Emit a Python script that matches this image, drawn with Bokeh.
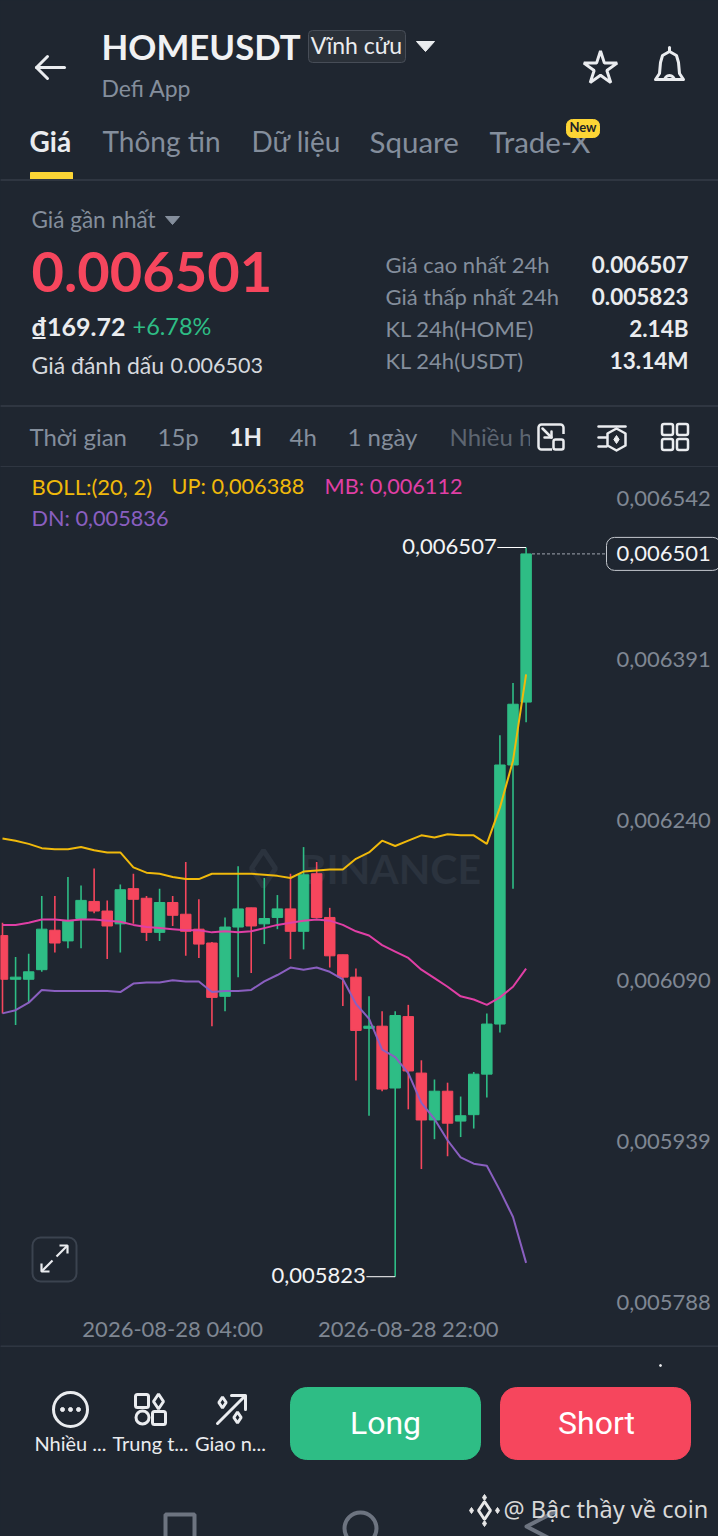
from bokeh.plotting import figure
from bokeh.layouts import column
from bokeh.models import ColumnDataSource, FixedTicker, Label, LinearAxis, Range1d
from bokeh.core.properties import value
from bokeh.embed import file_html
from bokeh.resources import INLINE

# Prices in millionths of USDT
OPEN = [6143,6102,6102,6111,6148,6138,6159,6175,6166,6154,6187,6178,6146,6174,6163,6149,6136,6086,6151,6169,6154,6160,6168,6147,6201,6160,6125,6104,6056,6058,6000,6067,6014,5970,5997,5969,5975,6013,6060,6303,6362]
HIGH = [6155,6123,6126,6180,6180,6198,6190,6206,6176,6191,6201,6180,6187,6180,6212,6177,6137,6160,6208,6169,6197,6181,6201,6226,6212,6169,6125,6112,6086,6072,6072,6078,6026,6008,6005,5992,6015,6070,6331,6380,6507]
LOW = [6070,6059,6080,6109,6127,6131,6131,6164,6121,6127,6154,6138,6138,6152,6124,6122,6058,6072,6104,6108,6135,6149,6121,6130,6159,6113,6077,6007,5974,5997,5823,5980,5924,5952,5936,5954,5962,5991,6052,6187,6343]
CLOSE = [6102,6104,6109,6149,6136,6157,6176,6166,6152,6186,6177,6146,6174,6162,6147,6135,6085,6151,6168,6152,6159,6168,6147,6200,6160,6124,6104,6054,6058,5999,6068,6016,5970,5997,5967,5974,6013,6060,6303,6360,6501]
UP = [6234,6232,6229,6225,6224,6224,6226,6223,6221,6221,6207,6202,6201,6198,6196,6196,6201,6201,6201,6201,6200,6199,6197,6203,6204,6205,6205,6215,6221,6232,6227,6232,6237,6235,6238,6237,6237,6229,6263,6307,6388]
MB = [6153,6153,6155,6158,6158,6157,6158,6158,6157,6156,6153,6151,6150,6149,6148,6148,6146,6147,6146,6147,6150,6153,6155,6157,6158,6157,6153,6147,6143,6134,6128,6122,6111,6103,6095,6086,6083,6078,6085,6095,6112]
DN = [6070,6073,6080,6092,6091,6091,6091,6091,6091,6090,6098,6099,6099,6101,6100,6100,6090,6091,6091,6092,6100,6106,6113,6111,6113,6109,6102,6079,6065,6036,6029,6014,5986,5971,5951,5935,5929,5927,5904,5879,5836]
Y_TICKS = [6542, 6391, 6240, 6090, 5939, 5788]
X_TICKS = [13, 31]
X_LABELS = ["2026-08-28 04:00", "2026-08-28 22:00"]
LAST_PRICE = 6501
HIGH_PRICE = 6507
LOW_PRICE = 5823
STAT_LABELS = ["Giá cao nhất 24h", "Giá thấp nhất 24h", "KL 24h(HOME)", "KL 24h(USDT)"]
STAT_VALUES = ["0.006507", "0.005823", "2.14B", "13.14M"]

BG = "#1f2630"
GREEN = "#2ebd85"
RED = "#f6465d"
GRAY = "#848e9c"
LINE = "#2f3641"
WHITE = "#eaecef"
YEL = "#f0b90b"
PINK = "#e03fa5"
PURP = "#8a5fc0"
FONT = "Lato"
W = 718

def px_fig(height, y0, y1):
    f = figure(width=W, height=height, frame_width=W, frame_height=height,
               x_range=(0, W), y_range=(y1, y0),
               output_backend="svg", toolbar_location=None, min_border=0,
               x_axis_location=None, y_axis_location=None,
               background_fill_color=BG, border_fill_color=BG, outline_line_color=None)
    f.grid.visible = False
    return f

def fmt(v):
    return f"0,{v:06d}"

def T(f, x, y, s, size, color=WHITE, bold=False, align="left", font=FONT, level="glyph", dx=-1, dy=-1.5):
    """Text with x, y given in page pixels (shifted for the baseline of the fonts)."""
    f.text([x], [y], text=[s], text_font=value(font), text_font_size=f"{size}px",
           text_color=color, text_align=align, text_baseline="middle",
           x_offset=dx if align == "left" else 0, y_offset=dy,
           text_font_style="bold" if bold else "normal", level=level)

def L(f, xs, ys, color=WHITE, w=3):
    f.line(xs, ys, line_color=color, line_width=w, line_cap="round", line_join="round")

def R(f, l, r, t, b, fill, radius=0, line=None):
    f.quad(left=[l], right=[r], top=[t], bottom=[b], fill_color=fill,
           line_color=line if line else fill, border_radius=radius)

# ---------- header ----------
h = px_fig(467, 0, 467)
L(h, [36, 64], [67, 67], w=3)
L(h, [47, 36, 47], [56, 67, 78], w=3)
T(h, 102, 47, "HOMEUSDT", 34.8, "#f0f1f3", True)
R(h, 308, 405, 30, 62, "#2b3139", 4, "#474d57")
T(h, 356, 46, "Vĩnh cửu", 23, WHITE, align="center")
h.patch([416, 434, 425], [41, 41, 51], fill_color=WHITE, line_color=WHITE)
T(h, 102, 89, "Defi App", 23, GRAY)
h.scatter([600], [68], marker="star", size=35, fill_color=None, line_color=WHITE, line_width=3)
L(h, [655, 659, 660, 662, 669, 676, 678, 679, 683, 655],
  [79, 73, 62, 55, 51, 55, 62, 73, 79, 79], w=3)
L(h, [669, 669], [47, 51], w=3)
h.arc([669], [80], radius=5, start_angle=0, end_angle=3.14, line_color=WHITE, line_width=3)
T(h, 30, 142, "Giá", 28, WHITE, True)
for x, s, z in [(103, "Thông tin", 28), (252, "Dữ liệu", 28), (370, "Square", 29.5), (490, "Trade-X", 29.5)]:
    T(h, x, 142, s, z, GRAY)
R(h, 30, 72, 172, 179, "#fcd535")
R(h, 0, 718, 179, 180, LINE)
R(h, 566, 599, 119, 137, "#fcd535", 6)
T(h, 582.5, 128, "New", 13, "#1e2329", True, "center")
T(h, 32, 220, "Giá gần nhất", 22.5, GRAY)
h.patch([165, 179, 172], [216, 216, 224], fill_color=GRAY, line_color=GRAY)
T(h, 32, 273, "0.006501", 56, RED, True)
T(h, 32, 327, "₫169.72", 25, WHITE, True)
T(h, 133, 327, "+6.78%", 23.5, GREEN)
T(h, 32, 366, "Giá đánh dấu", 23, "#d5d8dd")
T(h, 171, 366, "0.006503", 21.5, "#d5d8dd")
for i, (a, b) in enumerate(zip(STAT_LABELS, STAT_VALUES)):
    T(h, 386, 265 + 32 * i, a, 22, GRAY)
    T(h, 688, 265 + 32 * i, b, 22.5, WHITE, True, "right")
R(h, 0, 718, 405, 406, LINE)
for x, s in [(30, "Thời gian"), (158, "15p"), (290, "4h"), (348, "1 ngày")]:
    T(h, x, 437, s, 24, GRAY)
T(h, 230, 437, "1H", 24, WHITE, True)
T(h, 450, 437, "Nhiều h", 24, "#5d6570")
R(h, 530, 718, 420, 455, BG)
# icons
h.quad(left=[538], right=[563], top=[424], bottom=[449], fill_color=None, line_color=WHITE, line_width=2.5, border_radius=3)
R(h, 552, 566, 434, 452, BG)
h.quad(left=[553], right=[563], top=[439], bottom=[449], fill_color=None, line_color=WHITE, line_width=2.5, border_radius=2)
L(h, [542, 551], [428, 437], w=2.5)
L(h, [551, 551, 544], [431, 437, 437], w=2.5)
L(h, [598, 625], [426, 426], w=2.5)
L(h, [598, 606], [437, 437], w=2.5)
L(h, [598, 606], [446, 446], w=2.5)
L(h, [616, 625, 625, 616, 607, 607, 616], [428, 433, 445, 450, 445, 433, 428], w=2.5)
h.scatter([616], [439], marker="diamond", size=8, fill_color=WHITE, line_color=WHITE)
for cx in (667, 682):
    for cy in (429, 444):
        h.quad(left=[cx - 5.5], right=[cx + 5.5], top=[cy - 5.5], bottom=[cy + 5.5], fill_color=None,
               line_color=WHITE, line_width=2.5, border_radius=2)
R(h, 0, 718, 466, 467, LINE)

# ---------- chart ----------
STEP = 13.09
FRAME_B = 1313
def px_x(x):
    return (x - 2) / STEP
def px_y(y):
    return 7020.09 - 0.938 * y

c = figure(width=W, height=878, frame_width=W, frame_height=FRAME_B - 467,
           x_range=(px_x(0), px_x(W)), y_range=(px_y(FRAME_B), px_y(467)),
           y_axis_location=None, output_backend="svg", toolbar_location=None,
           min_border_left=0, min_border_top=0, min_border_right=0,
           min_border_bottom=1345 - FRAME_B,
           background_fill_color=BG, border_fill_color=BG, outline_line_color=None)
c.grid.visible = False
# the app writes each price label just above its level and inside the plot:
# a second scale, 12 px lower, carries the axis, whose labels stand back into the frame
LABEL_SHIFT = 12 * 0.938
c.extra_y_ranges = {"labels": Range1d(px_y(FRAME_B) - LABEL_SHIFT, px_y(467) - LABEL_SHIFT)}
ax = LinearAxis(y_range_name="labels", ticker=FixedTicker(ticks=Y_TICKS),
                major_label_overrides={v: fmt(v) for v in Y_TICKS})
c.add_layout(ax, "right")
bx = c.xaxis[0]
bx.ticker = FixedTicker(ticks=X_TICKS)
bx.major_label_overrides = dict(zip(X_TICKS, X_LABELS))
bx.major_label_standoff = 1
for a in (ax, bx):
    a.axis_line_color = None
    a.major_tick_line_color = None
    a.minor_tick_line_color = None
    a.major_tick_out = 0
    a.major_tick_in = 0
    a.minor_tick_out = 0
    a.major_label_text_color = "#7f8793"
    a.major_label_text_font = FONT
    a.major_label_text_font_size = "22px"
ax.major_label_standoff = -102

# watermark
T(c, px_x(300), px_y(869), "BINANCE", 41, "#2b333e", True, level="underlay")
c.scatter([px_x(263)], [px_y(868)], marker="diamond", size=36, fill_color=None,
          line_color="#2b333e", line_width=5, level="underlay")

idx = list(range(len(OPEN)))
colors = [GREEN if cl >= op else RED for op, cl in zip(OPEN, CLOSE)]
src = ColumnDataSource(dict(x=idx, o=OPEN, h=HIGH, l=LOW, c=CLOSE, col=colors,
                            top=[max(a, b) for a, b in zip(OPEN, CLOSE)],
                            bot=[min(a, b) for a, b in zip(OPEN, CLOSE)]))
c.segment("x", "h", "x", "l", source=src, line_color="col", line_width=1.6)
c.vbar("x", 0.8, "bot", "top", source=src, fill_color="col", line_color="col", line_width=1)
c.line(idx, UP, line_color=YEL, line_width=2)
c.line(idx, MB, line_color=PINK, line_width=2)
c.line(idx, DN, line_color=PURP, line_width=2)

# high / low markers
hi = HIGH.index(HIGH_PRICE)
lo = LOW.index(LOW_PRICE)
c.segment([hi - 2.2], [HIGH_PRICE], [hi], [HIGH_PRICE], line_color="white", line_width=1)
c.segment([lo - 2.2], [LOW_PRICE], [lo], [LOW_PRICE], line_color="white", line_width=1)
T(c, hi - 2.25, HIGH_PRICE, fmt(HIGH_PRICE), 22, "#f3f4f6", align="right")
T(c, lo - 2.25, LOW_PRICE, fmt(LOW_PRICE), 22, "#f3f4f6", align="right")
# last price
c.segment([len(OPEN) - 1 + 0.45], [LAST_PRICE], [px_x(606)], [LAST_PRICE], line_color="#a0a6b0",
          line_width=1, line_dash="3 2")
c.add_layout(Label(x=606, y=LAST_PRICE, x_units="screen", text=fmt(LAST_PRICE), text_color="#f3f4f6",
                   text_font=FONT, text_font_size="22px", text_baseline="middle",
                   background_fill_color=BG, border_line_color="#c4c8ce", border_line_width=1,
                   border_radius=8, padding=(10, 9)))
# legend
T(c, px_x(32), px_y(487), "BOLL:(20, 2)", 22, YEL)
T(c, px_x(172), px_y(487), f"UP: {fmt(UP[-1])}", 21.7, YEL)
T(c, px_x(325), px_y(487), f"MB: {fmt(MB[-1])}", 21.7, PINK)
T(c, px_x(32), px_y(519), f"DN: {fmt(DN[-1])}", 21.7, PURP)
# expand icon
c.quad(left=[px_x(32)], right=[px_x(76)], top=[px_y(1237)], bottom=[px_y(1281)], fill_color=BG,
       line_color="#3b434f", line_width=2, border_radius=8)
for xs, ys in [((41, 52), (1271, 1260)), ((56, 67), (1256, 1245)),
               ((41, 41, 49), (1263, 1271, 1271)), ((59, 67, 67), (1245, 1245, 1253))]:
    c.line([px_x(v) for v in xs], [px_y(v) for v in ys], line_color=WHITE, line_width=2.2)

# ---------- footer ----------
f = px_fig(191, 1345, 1536)
R(f, 0, 718, 1345, 1346, LINE)
f.scatter([660], [1365], marker="circle", size=2, fill_color=WHITE, line_color=WHITE)
f.circle([70], [1409], radius=17, fill_color=None, line_color=WHITE, line_width=3)
f.scatter([62, 70, 78], [1409] * 3, marker="circle", size=4, fill_color=WHITE, line_color=WHITE)
f.quad(left=[135], right=[148], top=[1394], bottom=[1407], fill_color=None, line_color=WHITE, line_width=3, border_radius=2)
f.scatter([158], [1401], marker="diamond", size=15, fill_color=None, line_color=WHITE, line_width=3)
f.circle([142], [1417], radius=6.5, fill_color=None, line_color=WHITE, line_width=3)
f.quad(left=[152], right=[165], top=[1411], bottom=[1424], fill_color=None, line_color=WHITE, line_width=3, border_radius=2)
L(f, [217, 244], [1423, 1396], w=3)
L(f, [231, 245, 245], [1395, 1395, 1409], w=3)
f.scatter([222, 237], [1402, 1417], marker="diamond", size=11, fill_color=None, line_color=WHITE, line_width=3)
for x, s in [(70, "Nhiều ..."), (150, "Trung t..."), (230, "Giao n...")]:
    T(f, x, 1444, s, 20, WHITE, align="center")
R(f, 290, 480, 1387, 1459, GREEN, 16)
R(f, 500, 690, 1387, 1459, RED, 16)
T(f, 385, 1424, "Long", 32, "#ffffff", align="center", font="Roboto")
T(f, 596, 1424, "Short", 32, "#ffffff", align="center", font="Roboto")
f.quad(left=[165], right=[194], top=[1514], bottom=[1540], fill_color=None, line_color="#6d7480", line_width=4)
f.circle([360], [1528], radius=16, fill_color=None, line_color="#6d7480", line_width=4)
L(f, [553, 526, 553], [1512, 1526, 1540], "#6d7480", 4)
T(f, 504, 1510, "@ Bậc thầy về coin", 23.5, "#d8d8d8", font="Noto Sans")
f.scatter([484], [1510], marker="diamond", size=18, fill_color=None, line_color="#e8e8e8", line_width=3)
f.scatter([471, 497, 484, 484], [1510, 1510, 1497, 1523], marker="diamond", size=6, fill_color="#e8e8e8", line_color="#e8e8e8")

root = column(h, c, f, spacing=0, styles={"background-color": BG})
open("out.html", "w", encoding="utf-8").write(file_html(root, INLINE))
